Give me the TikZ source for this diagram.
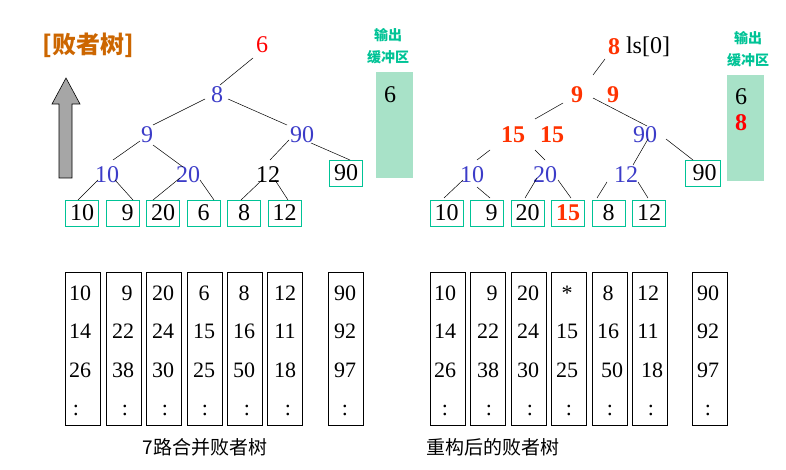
\documentclass[tikz,border=0pt]{standalone}
\usepackage{fontspec}
\setmainfont{Liberation Serif}
\newfontfamily\cjk{Noto Sans CJK SC}
\begin{document}
\begin{tikzpicture}[x=1pt,y=-1pt]
\definecolor{bluec}{RGB}{60,60,200}
\definecolor{boxc}{RGB}{0,195,150}
\definecolor{bufc}{RGB}{168,226,200}
\definecolor{titc}{RGB}{204,102,0}
\definecolor{redc}{RGB}{255,50,0}
\tikzset{
  num/.style={font=\fontsize{24}{24}\selectfont,inner sep=0pt},
  bl/.style={num,text=bluec},
  rd/.style={num,text=redc,font=\fontsize{24}{24}\selectfont\bfseries},
  leaf/.style={draw=boxc,line width=0.8pt,minimum width=33pt,minimum height=26pt,inner sep=0pt,font=\fontsize{24}{24}\selectfont},
  col/.style={draw,line width=0.5pt,minimum width=35pt,minimum height=153pt,inner sep=0pt},
  cn/.style={font=\fontsize{22}{22}\selectfont,inner sep=0pt},
  ln/.style={line width=0.5pt},
  buf/.style={fill=bufc,draw=none,minimum width=37pt,minimum height=106pt,inner sep=0pt},
  bl2/.style={text=boxc,font=\cjk\bfseries\fontsize{14}{14}\selectfont,inner sep=0pt}}
\useasboundingbox (0,0) rectangle (786,470);
% title and arrow
\node[text=titc,font=\cjk\bfseries\fontsize{24}{24}\selectfont] (title) at (88,45) {[败者树]};
\draw[fill=gray!70,draw=black,line width=0.6pt] (59,178) -- (72,178) -- (72,104) -- (80,104) -- (66,78) -- (52,104) -- (59,104) -- cycle;
% left tree
\node[num,text=red] (a0) at (262,45) {6};
\node[bl] (a1) at (217,95) {8};
\node[bl] (a2) at (147,135) {9};
\node[bl] (a3) at (302,135) {90};
\node[bl] (a4) at (107,175) {10};
\node[bl] (a5) at (188,175) {20};
\node[num] (a6) at (268,175) {12};
\node[leaf] (a7) at (346,173) {90};
\foreach \x/\v/\n in {82/10/l1,122.5/\hspace*{10pt}9/l2,163/20/l3,203.5/6/l4,244/8/l5,284.5/12/l6}
  \node[leaf] (\n) at (\x,213) {\v};
\draw[ln] (253,58)--(220,85) (205,99)--(153,125) (228,99)--(287,125)
 (140,141)--(113,160) (153,145)--(183,167) (289,140)--(270,160) (311,143)--(350,160)
 (98,180)--(78,200) (115,180)--(133,200) (180,178)--(153,200) (200,180)--(214,200)
 (262,180)--(241,200) (275,180)--(288,200);
\node[bl2] (o1) at (388,35) {输出};
\node[bl2] (o2) at (388,57) {缓冲区};
\node[buf] (b1) at (394.5,125) {};
\node[num] at (390,95) {6};
% right tree
\node[rd] (r0) at (614,47) {8};
\node[num] (ls) at (648,47) {ls[0]};
\node[rd] (r1) at (577,95) {9};
\node[rd] (r1b) at (613,95) {9};
\node[rd] (r2) at (513,135) {15};
\node[rd] (r2b) at (552,135) {15};
\node[bl] (r3) at (645,135) {90};
\node[bl] (r4) at (472,175) {10};
\node[bl] (r5) at (545,175) {20};
\node[bl] (r6) at (626,175) {12};
\node[leaf,minimum width=35pt] (r7) at (702.5,173) {\hspace*{4pt}90};
\node[leaf] (m1) at (446.5,213) {10};
\node[leaf] (m2) at (486.5,213) {\hspace*{10pt}9};
\node[leaf] (m3) at (527.5,213) {20};
\node[leaf,text=redc,font=\bfseries\fontsize{24}{24}\selectfont] (m4) at (568,213) {15};
\node[leaf] (m5) at (608.5,213) {8};
\node[leaf] (m6) at (649,213) {12};
\draw[ln] (605,59)--(593,75) (563,103)--(535,119) (593,98)--(647,126)
 (490,150)--(477,160) (535,150)--(545,160) (648,139)--(633,165) (666,139)--(693,160)
 (463,180)--(444,198) (477,187)--(490,198) (537,178)--(525,198) (558,180)--(571,198)
 (607,182)--(597,198) (638,182)--(648,198);
\node[bl2] (p1) at (748,38) {输出};
\node[bl2] (p2) at (748,60) {缓冲区};
\node[buf] (b2) at (745.5,128) {};
\node[num] at (741,97) {6};
\node[rd,text=red] at (741,123) {8};
% columns
\foreach \cx in {83,123.5,163.5,204.5,244.5,285,345.5,448,488,528.5,569,609.5,650,709.5}
  \node[col] at (\cx,348.5) {};
\foreach \x/\a/\b/\c/\d in {80/10/14/26/76, 123/\hspace*{8pt}9/22/38/125, 163/20/24/30/165, 204/6/15/25/205,
  244/8/16/50/247, 285/12/11/18/288, 345/90/92/97/345,
  445/10/14/26/445, 488/\hspace*{8pt}9/22/38/489, 528/20/24/30/530, 567/*/15/25/569,
  608/8/16/\hspace*{8pt}50/610, 648/12/11/\hspace*{8pt}18/651, 708/90/92/97/708}{
  \node[cn] at (\x,293) {\a};
  \node[cn] at (\x,331) {\b};
  \node[cn] at (\x,370) {\c};
  \node[cn] at (\d,410) {:};
}
\node[font=\cjk\fontsize{19}{19}\selectfont] (c1) at (205,447) {7路合并败者树};
\node[font=\cjk\fontsize{19}{19}\selectfont] (c2) at (493,447) {重构后的败者树};
\end{tikzpicture}
\end{document}
